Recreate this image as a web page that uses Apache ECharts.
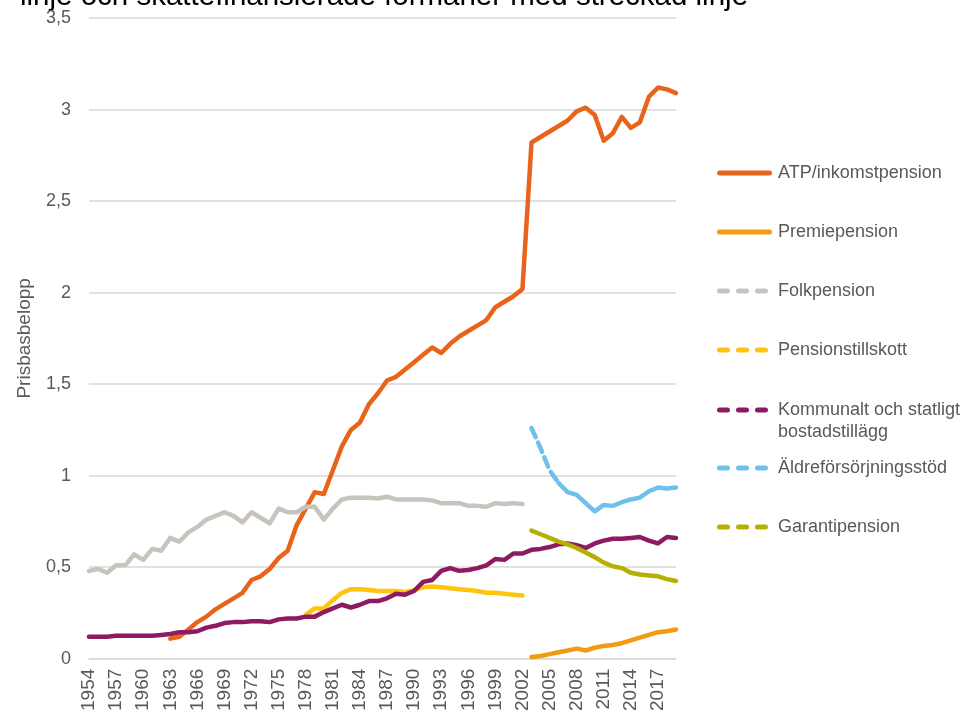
<!DOCTYPE html>
<html>
<head>
<meta charset="utf-8">
<script src="https://cdn.jsdelivr.net/npm/echarts@6/dist/echarts.min.js"></script>
<style>
  html, body { margin: 0; padding: 0; background: #fff; }
  #chart { width: 974px; height: 714px; }
</style>
</head>
<body>
<div id="chart"></div>
<script>
// år 1954-2019
const years = [
  '1954','1955','1956','1957','1958','1959','1960','1961','1962','1963',
  '1964','1965','1966','1967','1968','1969','1970','1971','1972','1973',
  '1974','1975','1976','1977','1978','1979','1980','1981','1982','1983',
  '1984','1985','1986','1987','1988','1989','1990','1991','1992','1993',
  '1994','1995','1996','1997','1998','1999','2000','2001','2002','2003',
  '2004','2005','2006','2007','2008','2009','2010','2011','2012','2013',
  '2014','2015','2016','2017','2018','2019'
];

const atp = [
  null,null,null,null,null,null,null,null,null,0.11,
  0.12,0.16,0.20,0.23,0.27,0.30,0.33,0.36,0.43,0.45,
  0.49,0.55,0.59,0.73,0.82,0.91,0.90,1.03,1.16,1.25,
  1.29,1.39,1.45,1.52,1.54,1.58,1.62,1.66,1.70,1.67,
  1.72,1.76,1.79,1.82,1.85,1.92,1.95,1.98,2.02,2.82,
  2.85,2.88,2.91,2.94,2.99,3.01,2.97,2.83,2.87,2.96,
  2.90,2.93,3.07,3.12,3.11,3.09
];

const premie = [
  null,null,null,null,null,null,null,null,null,null,
  null,null,null,null,null,null,null,null,null,null,
  null,null,null,null,null,null,null,null,null,null,
  null,null,null,null,null,null,null,null,null,null,
  null,null,null,null,null,null,null,null,null,0.01,
  0.015,0.025,0.035,0.045,0.055,0.045,0.06,0.07,0.075,0.085,
  0.10,0.115,0.13,0.145,0.15,0.16
];

const folk = [
  0.48,0.49,0.47,0.51,0.51,0.57,0.54,0.60,0.59,0.66,
  0.64,0.69,0.72,0.76,0.78,0.80,0.78,0.745,0.80,0.77,
  0.74,0.82,0.80,0.80,0.83,0.83,0.76,0.82,0.87,0.88,
  0.88,0.88,0.875,0.885,0.87,0.87,0.87,0.87,0.865,0.85,
  0.85,0.85,0.835,0.835,0.83,0.85,0.845,0.85,0.845,null,
  null,null,null,null,null,null,null,null,null,null,
  null,null,null,null,null,null
];

const tillskott = [
  null,null,null,null,null,null,null,null,null,null,
  null,null,null,null,null,null,null,null,null,null,
  null,null,null,null,0.24,0.275,0.275,0.32,0.36,0.38,
  0.38,0.375,0.37,0.37,0.37,0.365,0.375,0.39,0.395,0.39,
  0.385,0.38,0.375,0.37,0.36,0.36,0.355,0.35,0.345,null,
  null,null,null,null,null,null,null,null,null,null,
  null,null,null,null,null,null
];

const bostad = [
  0.12,0.12,0.12,0.125,0.125,0.125,0.125,0.125,0.13,0.135,
  0.145,0.145,0.15,0.17,0.18,0.195,0.20,0.20,0.205,0.205,
  0.20,0.215,0.22,0.22,0.23,0.23,0.255,0.275,0.295,0.28,
  0.295,0.315,0.315,0.33,0.355,0.35,0.37,0.42,0.43,0.48,
  0.495,0.48,0.485,0.495,0.51,0.545,0.54,0.575,0.575,0.595,
  0.60,0.61,0.625,0.63,0.62,0.605,0.63,0.645,0.655,0.655,
  0.66,0.665,0.645,0.63,0.665,0.66
];

const aldre = [
  null,null,null,null,null,null,null,null,null,null,
  null,null,null,null,null,null,null,null,null,null,
  null,null,null,null,null,null,null,null,null,null,
  null,null,null,null,null,null,null,null,null,null,
  null,null,null,null,null,null,null,null,null,1.26,
  1.15,1.03,0.96,0.91,0.895,0.85,0.805,0.84,0.835,0.855,
  0.87,0.88,0.915,0.935,0.93,0.935
];

const garanti = [
  null,null,null,null,null,null,null,null,null,null,
  null,null,null,null,null,null,null,null,null,null,
  null,null,null,null,null,null,null,null,null,null,
  null,null,null,null,null,null,null,null,null,null,
  null,null,null,null,null,null,null,null,null,0.70,
  0.68,0.66,0.64,0.625,0.605,0.58,0.555,0.525,0.505,0.495,
  0.47,0.46,0.455,0.45,0.435,0.425
];

const names = [
  'ATP/inkomstpension',
  'Premiepension',
  'Folkpension',
  'Pensionstillskott',
  'Kommunalt och statligt bostadstillägg',
  'Äldreförsörjningsstöd',
  'Garantipension'
];
const colors = ['#E8641B', '#F39A12', '#C9C3BD', '#FFC40F', '#8E1B62', '#6FC0EB', '#B8B000'];
const dashedLegend = [false, false, true, true, true, true, true];

const titleText = 'linje och skattefinansierade förmåner med streckad linje';
const axisGray = '#595959';
const font = '"Liberation Sans", Arial, sans-serif';

// legendikoner: heldragen resp. streckad linje med rundade ändar
const solidIcon = 'path://M2.5,0h50a2.5,2.5 0 0 1 0,5h-50a2.5,2.5 0 0 1 0,-5z';
const dashIcon = 'path://M2.5,0h8a2.5,2.5 0 0 1 0,5h-8a2.5,2.5 0 0 1 0,-5z' +
  'M21.5,0h8a2.5,2.5 0 0 1 0,5h-8a2.5,2.5 0 0 1 0,-5z' +
  'M40.5,0h8a2.5,2.5 0 0 1 0,5h-8a2.5,2.5 0 0 1 0,-5z';

// äldreförsörjningsstöd: streckad i början, sedan heldragen (som i Excel)
const aldreDashEnd = years.indexOf('2006');
const aldreDash = aldre.map((v, i) => (i <= aldreDashEnd ? v : null));
const aldreSolid = aldre.map((v, i) => (i >= aldreDashEnd ? v : null));

function lineSeries(name, data, color, extra) {
  return Object.assign({
    name: name,
    type: 'line',
    data: data,
    symbol: 'none',
    connectNulls: false,
    lineStyle: { color: color, width: 4.5, cap: 'round', join: 'round' },
    itemStyle: { color: color }
  }, extra || {});
}

const series = [
  lineSeries(names[0], atp, colors[0]),
  lineSeries(names[1], premie, colors[1]),
  lineSeries(names[2], folk, colors[2]),
  lineSeries(names[3], tillskott, colors[3]),
  lineSeries(names[4], bostad, colors[4]),
  lineSeries(names[5], aldreDash, colors[5], {
    lineStyle: { color: colors[5], width: 4.5, type: [10, 6], cap: 'round' }
  }),
  lineSeries(names[5], aldreSolid, colors[5]),
  lineSeries(names[6], garanti, colors[6])
];

// en legend per post för att styra placeringen
const legendCenters = [173, 232, 291, 350, 410, 468, 527];
const legends = names.map((n, i) => {
  const multi = n.indexOf('bostadstillägg') >= 0;
  return {
    orient: 'vertical',
    left: 717,
    top: multi ? legendCenters[i] - 33 : legendCenters[i] - 11,
    padding: 0,
    itemWidth: dashedLegend[i] ? 51 : 55,
    itemHeight: 5,
    selectedMode: false,
    icon: dashedLegend[i] ? dashIcon : solidIcon,
    itemStyle: { color: colors[i], borderWidth: 0 },
    data: [n],
    formatter: multi ? () => '\nKommunalt och statligt\nbostadstillägg' : undefined,
    textStyle: {
      color: axisGray, fontSize: 18, lineHeight: 22, fontFamily: font,
      padding: [0, 0, 0, dashedLegend[i] ? 5 : 1]
    }
  };
});

const chart = echarts.init(document.getElementById('chart'));
chart.setOption({
  animation: false,
  backgroundColor: '#fff',
  textStyle: { fontFamily: font },
  graphic: [{
    type: 'text',
    left: 20,
    top: -18,
    style: {
      text: titleText,
      font: '29.5px "Liberation Sans", Arial, sans-serif',
      fill: '#000'
    }
  }],
  grid: { left: 89, right: 298, top: 18, bottom: 54, containLabel: false },
  legend: legends,
  xAxis: {
    type: 'category',
    data: years,
    boundaryGap: false,
    axisLine: { show: true, lineStyle: { color: '#D9D9D9', width: 1.5 } },
    axisTick: { show: false },
    axisLabel: {
      rotate: 90,
      interval: 2,
      color: axisGray,
      fontSize: 19,
      margin: 10,
      fontFamily: font
    },
    splitLine: { show: false }
  },
  yAxis: {
    type: 'value',
    min: 0,
    max: 3.5,
    interval: 0.5,
    name: 'Prisbasbelopp',
    nameLocation: 'middle',
    nameGap: 55,
    nameTextStyle: { color: axisGray, fontSize: 19, fontFamily: font },
    axisLine: { show: false },
    axisTick: { show: false },
    axisLabel: {
      color: axisGray,
      fontSize: 18,
      margin: 18,
      fontFamily: font,
      formatter: v => String(v).replace('.', ',')
    },
    splitLine: { lineStyle: { color: '#D9D9D9', width: 1.5 } }
  },
  series: series
});
</script>
</body>
</html>
